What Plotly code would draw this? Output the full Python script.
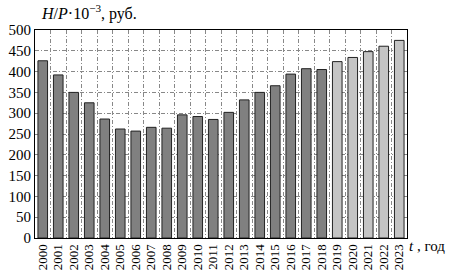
import plotly.graph_objects as go

years = [str(y) for y in range(2000, 2024)]
values = [426, 392, 350, 325, 286, 262, 257, 266, 264, 296, 292, 285,
          302, 332, 350, 366, 394, 407, 405, 424, 434, 448, 461, 475]
light_from = "2019"
y_ticks = list(range(0, 501, 50))

dark_color = "#808080"
light_color = "#c4c4c4"
colors = [light_color if y >= light_from else dark_color for y in years]

font_family = "Liberation Serif, Times New Roman, serif"

fig = go.Figure()
fig.add_trace(go.Bar(
    x=years, y=values,
    marker=dict(color=colors, line=dict(color="#222222", width=1)),
))

fig.update_layout(
    width=449, height=271,
    margin=dict(l=35, r=42, t=30, b=33, autoexpand=False),
    paper_bgcolor="white", plot_bgcolor="white",
    bargap=0.38,
    showlegend=False,
    font=dict(family=font_family, size=14, color="black"),
)
grid_dash = "4px,2px,1px,2px"
fig.update_xaxes(
    type="category", tickson="boundaries",
    tickmode="array", tickvals=years, ticktext=years,
    tickangle=-90, automargin=False,
    showgrid=True, gridcolor="#888888", griddash=grid_dash, gridwidth=0.8,
    showline=True, linecolor="black", linewidth=1, mirror=True,
    ticks="", ticklen=0,
    tickfont=dict(family=font_family, size=13),
)
fig.update_yaxes(
    range=[0, 500], tickmode="array", tickvals=y_ticks,
    ticktext=[str(v) for v in y_ticks], automargin=False,
    showgrid=True, gridcolor="#888888", griddash=grid_dash, gridwidth=0.8,
    showline=True, linecolor="black", linewidth=1, mirror=True,
    zeroline=False, ticks="",
    tickfont=dict(family=font_family, size=15),
)

fig.add_annotation(
    xref="paper", yref="paper", x=0.01, y=1.0, yshift=18,
    xanchor="left", yanchor="middle", showarrow=False,
    text="<i>H</i>/<i>P</i>·10<sup>−3</sup>, руб.",
    font=dict(family=font_family, size=16, color="black"),
)
fig.add_annotation(
    xref="paper", yref="paper", x=1.0, y=0.0, xshift=0, yshift=-8,
    xanchor="left", yanchor="middle", showarrow=False,
    text="<i>t</i> , год",
    font=dict(family=font_family, size=15, color="black"),
)

fig.write_html("out.html", config={"displayModeBar": False},
               post_script="document.body.style.margin='0';document.body.style.overflow='hidden';")
